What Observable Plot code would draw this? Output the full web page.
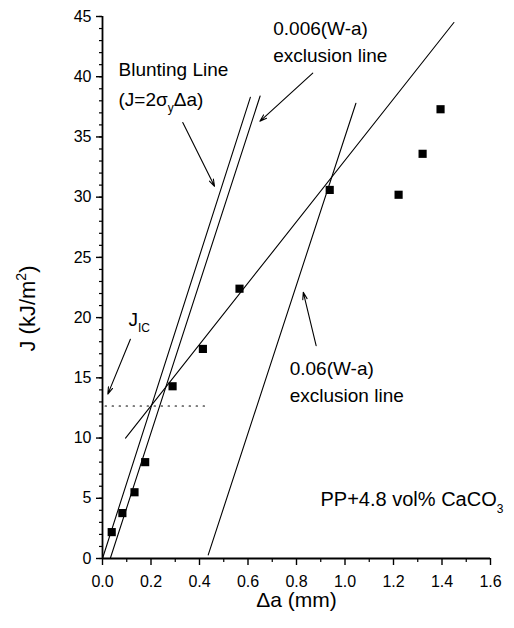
<!DOCTYPE html>
<html>
<head>
<meta charset="utf-8">
<script src="https://cdn.jsdelivr.net/npm/d3@7"></script>
<script src="https://cdn.jsdelivr.net/npm/@observablehq/plot@0.6"></script>
<style>
  html, body { margin: 0; padding: 0; background: #fff; }
  #chart svg { display: block; }
</style>
</head>
<body>
<div id="chart"></div>
<script>
// ---- data ----
const crackGrowth = [0.038, 0.082, 0.132, 0.176, 0.289, 0.414, 0.565, 0.937, 1.221, 1.320, 1.394];
const jValues     = [2.19, 3.77, 5.50, 8.00, 14.3, 17.4, 22.4, 30.6, 30.2, 33.6, 37.3];

const fitLineX   = [0.095, 1.449];
const fitLineJ   = [10.0, 44.5];
const bluntingX  = [0.000, 0.610];
const bluntingJ  = [0.0, 38.3];
const excl006X   = [0.032, 0.650];
const excl006J   = [0.0, 38.4];
const excl06X    = [0.436, 1.045];
const excl06J    = [0.3, 37.8];
const jicX       = [0.011, 0.440];
const jicJ       = 12.66;

const arrowFromX = [0.331, 0.867, 0.881, 0.115];
const arrowFromJ = [36.2, 40.3, 17.67, 18.2];
const arrowToX   = [0.462, 0.649, 0.828, 0.022];
const arrowToJ   = [30.9, 36.3, 22.1, 13.65];

const labelTexts = ["Blunting Line", "(J=2σyΔa)", "0.006(W-a)", "exclusion line", "0.06(W-a)", "exclusion line", "JIC"];
const labelX     = [0.066, 0.066, 0.704, 0.704, 0.772, 0.772, 0.107];
const labelJ     = [40.6, 38.1, 43.97, 41.75, 15.73, 13.51, 19.8];
const sampleText = "PP+4.8 vol% CaCO3";
const sampleX    = 0.899;
const sampleJ    = 4.9;

const xTicks = [0, 0.2, 0.4, 0.6, 0.8, 1.0, 1.2, 1.4, 1.6];
const xTickLabels = ["0.0", "0.2", "0.4", "0.6", "0.8", "1.0", "1.2", "1.4", "1.6"];
const xMinorTicks = [0.1, 0.3, 0.5, 0.7, 0.9, 1.1, 1.3, 1.5];
const yTicks = [0, 5, 10, 15, 20, 25, 30, 35, 40, 45];
const yMinorTicks = d3.range(0, 46, 1);

const xTitle = "Δa (mm)";
const yTitle = "J (kJ/m2)";

// ---- build tables ----
const points = crackGrowth.map((x, i) => ({x, y: jValues[i]}));
const seg = (xs, ys) => xs.map((x, i) => ({x, y: ys[i]}));
const lines = [
  seg(fitLineX, fitLineJ),
  seg(bluntingX, bluntingJ),
  seg(excl006X, excl006J),
  seg(excl06X, excl06J)
];
const jicLine = seg(jicX, [jicJ, jicJ]);
const arrows = arrowFromX.map((x, i) => ({x1: x, y1: arrowFromJ[i], x2: arrowToX[i], y2: arrowToJ[i]}));
const labels = labelTexts.map((t, i) => ({t, x: labelX[i], y: labelJ[i]}));

const FONT = "'Liberation Sans', Arial, Helvetica, sans-serif";

const chart = Plot.plot({
  width: 514,
  height: 628,
  marginLeft: 102,
  marginRight: 24,
  marginTop: 16,
  marginBottom: 70,
  style: {fontFamily: FONT, fontSize: "16px", color: "#000", background: "#fff"},
  x: {domain: [0, 1.6]},
  y: {domain: [0, 45]},
  marks: [
    // axes
    Plot.axisY(yMinorTicks, {tickSize: 3, tickFormat: () => "", strokeWidth: 1.2}),
    Plot.axisY(yTicks, {tickSize: 6, tickPadding: 5, strokeWidth: 1.4, fontSize: 16}),
    Plot.axisX(xMinorTicks, {tickSize: 4, tickFormat: () => "", strokeWidth: 1.2}),
    Plot.axisX(xTicks, {tickSize: 7, tickPadding: 10, strokeWidth: 1.4, fontSize: 16,
      tickFormat: d => xTickLabels[xTicks.indexOf(d)]}),
    Plot.ruleX([0], {y1: 0, y2: 45, strokeWidth: 1.8}),
    Plot.ruleY([0], {x1: 0, x2: 1.6, strokeWidth: 1.8}),
    // axis titles
    Plot.text([xTitle], {frameAnchor: "bottom", textAnchor: "middle", dy: 42, fontSize: 21, lineAnchor: "middle"}),
    Plot.text([yTitle], {frameAnchor: "left", textAnchor: "middle", dx: -75, dy: 21, rotate: -90, fontSize: 22, lineAnchor: "middle"}),
    // lines
    ...lines.map(l => Plot.line(l, {x: "x", y: "y", stroke: "#000", strokeWidth: 1.1})),
    Plot.line(jicLine, {x: "x", y: "y", stroke: "#000", strokeWidth: 1.2, strokeDasharray: "1.3,5.7"}),
    // arrows
    Plot.arrow(arrows, {x1: "x1", y1: "y1", x2: "x2", y2: "y2", stroke: "#000", strokeWidth: 1.1, headLength: 10, headAngle: 35}),
    // data
    Plot.dot(points, {x: "x", y: "y", symbol: "square", r: 4.6, fill: "#000", stroke: null}),
    // labels
    Plot.text(labels, {x: "x", y: "y", text: "t", textAnchor: "start", lineAnchor: "middle", fontSize: 19, fill: "#000"}),
    Plot.text([sampleText], {x: () => sampleX, y: () => sampleJ, textAnchor: "start", lineAnchor: "middle", fontSize: 20, fill: "#000"})
  ]
});

// rich text (subscripts / superscripts)
const rich = {
  "JIC": [["J"], ["IC", "sub", 12, 6]],
  "(J=2σyΔa)": [["(J=2σ"], ["y", "sub", 12, 6], ["Δa)"]],
  "PP+4.8 vol% CaCO3": [["PP+4.8 vol% CaCO"], ["3", "sub", 12, 7]],
  "J (kJ/m2)": [["J (kJ/m"], ["2", "sup", 14, -9], [")"]]
};
d3.select(chart).selectAll("text").each(function() {
  const key = this.textContent;
  const parts = rich[key];
  if (!parts) return;
  const el = d3.select(this);
  el.text(null);
  let shift = 0;
  for (const [s, kind, size, off] of parts) {
    const ts = el.append("tspan").text(s);
    const target = kind ? off : 0;
    if (kind) ts.attr("font-size", size);
    if (target !== shift) { ts.attr("dy", target - shift); shift = target; }
  }
});

document.getElementById("chart").appendChild(chart);
</script>
</body>
</html>
